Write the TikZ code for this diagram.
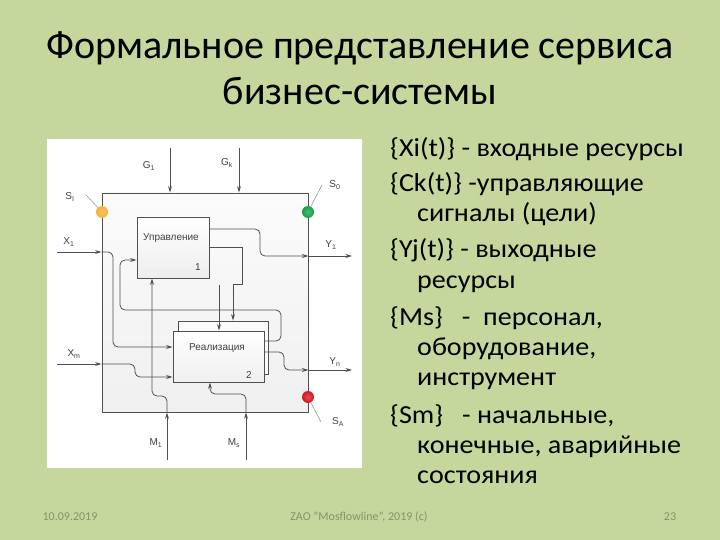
\documentclass[tikz,border=0pt]{standalone}
\usepackage{fontspec}
\setmainfont{Carlito}
\newfontfamily\bodyfont[FakeStretch=1.08]{Carlito}
\newfontfamily\diagfont{Liberation Sans}
\usetikzlibrary{arrows.meta,calc}
\definecolor{bg}{RGB}{197,215,156}
\definecolor{foot}{RGB}{132,148,104}
\definecolor{ln}{RGB}{80,80,80}
\definecolor{sorange}{RGB}{245,178,50}
\definecolor{sgreen}{RGB}{20,160,75}
\definecolor{sred}{RGB}{215,20,30}
\tikzset{
  x=1pt,y=-1pt,
  lin/.style={draw=ln,line width=0.8pt},
  arr/.style={lin,-{Stealth[length=6.5pt,width=4pt]}},
  rarr/.style={lin,rounded corners=5pt,-{Stealth[length=6.5pt,width=4pt]}},
  box/.style={draw=ln,line width=0.9pt,inner sep=0pt},
  lab/.style={font=\diagfont\fontsize{10}{11}\selectfont,text=black!75,inner sep=0pt},
  state/.style={circle,minimum size=12pt,inner sep=0pt},
  lead/.style={draw=black!55,line width=0.4pt},
  body/.style={anchor=base west,inner sep=0pt,font=\bodyfont\fontsize{26}{30}\selectfont},
  ttl/.style={anchor=base,inner sep=0pt,font=\fontsize{40}{48}\selectfont},
  ft/.style={anchor=base,inner sep=0pt,text=foot,font=\fontsize{12}{14}\selectfont}
}
\begin{document}
\begin{tikzpicture}
\useasboundingbox (0,0) rectangle (720,540);
\fill[bg] (0,0) rectangle (720,540);
% title
\node[ttl] (t1) at (360,59) {Формальное представление сервиса};
\node[ttl] (t2) at (360,105) {бизнес-системы};
% diagram background
\fill[white] (47,139) rectangle (362,468);
% boxes
\node[box,top color=gray!3,bottom color=gray!12,minimum width=206pt,minimum height=219pt] (outer) at (205,302.5) {};
\node[box,top color=white,bottom color=gray!14,minimum width=72pt,minimum height=61pt] (upr) at (173,247.5) {};
\node[box,fill=gray!4,minimum width=90pt,minimum height=53pt] (realsh) at (223,347.5) {};
\node[box,top color=white,bottom color=gray!12,minimum width=91pt,minimum height=51pt] (real) at (218.5,356.5) {};
\node[lab] (uprt) at (171,238) {Управление};
\node[lab] (upr1) at (198,267) {1};
\node[lab] (realt) at (217,348) {Реализация};
\node[lab] (real2) at (249,375) {2};
% inputs G
\coordinate (g1s) at (170,148);
\coordinate (gks) at (239,148);
\draw[arr] (g1s) -- (g1s |- outer.north);
\draw[arr] (gks) -- (gks |- outer.north);
\node[lab] (g1) at (149,166) {G\textsubscript{1}};
\node[lab] (gk) at (227,163) {G\textsubscript{k}};
% X1
\coordinate (x1s) at (57,252);
\draw[arr] (x1s) -- (outer.west |- x1s);
\draw[rarr] (outer.west |- x1s) -- (113,252) -- (113,347) -- (real.west |- 0,347);
\node[lab] (x1) at (69,242) {X\textsubscript{1}};
% Xm
\coordinate (xms) at (57,364);
\draw[arr] (xms) -- (outer.west |- xms);
\draw[rarr] (outer.west |- xms) -- (135,364) -- (135,377) -- (real.west |- 0,377);
\node[lab] (xm) at (74,354) {X\textsubscript{m}};
% feedback
\draw[rarr] (real.east |- 0,341) -- (281,341) -- (281,310) -- (120,310) -- (120,260) -- (upr.west |- 0,260);
% Y1
\coordinate (y1e) at (352,256);
\draw[rarr] (upr.east |- 0,229) -- (260,229) -- (260,256) -- (outer.east |- y1e);
\draw[arr] (outer.east |- y1e) -- (y1e);
\node[lab] (y1) at (331,245) {Y\textsubscript{1}};
% Yn
\coordinate (yne) at (352,370);
\draw[rarr] (real.east |- 0,352) -- (284,352) -- (284,370) -- (outer.east |- yne);
\draw[arr] (outer.east |- yne) -- (yne);
\node[lab] (yn) at (335,362) {Y\textsubscript{n}};
% control
\draw[arr] (upr.east |- 0,247) -- (242,247) -- (242,284) -- (233,284) -- (realsh.north -| 233,0);
\coordinate (fs) at (219,285);
\draw[arr] (fs) -- (real.north -| fs);
% M1
\coordinate (m1s) at (167,460);
\draw[arr] (m1s) -- (m1s |- outer.south);
\draw[rarr] (m1s |- outer.south) -- (167,396) -- (152,396) -- (upr.south -| 152,0);
\node[lab] (m1) at (156,443) {M\textsubscript{1}};
% Ms
\coordinate (mss) at (246,460);
\draw[arr] (mss) -- (mss |- outer.south);
\draw[rarr] (mss |- outer.south) -- (246,394) -- (210,394) -- (real.south -| 210,0);
\node[lab] (ms) at (234,443) {M\textsubscript{s}};
% states
\node[state,inner color=sorange!75!white,outer color=sorange] (si) at (102,212) {};
\node[state,inner color=sgreen!75!white,outer color=sgreen] (so) at (308,212) {};
\node[state,inner color=sred!75!white,outer color=sred] (sa) at (308,397) {};
\node[lab] (sil) at (70,197) {S\textsubscript{I}};
\node[lab] (sol) at (335,185) {S\textsubscript{0}};
\node[lab] (sal) at (338,422) {S\textsubscript{A}};
\coordinate (sil1) at (86,195);
\coordinate (sol1) at (322,185);
\coordinate (sal1) at (321,422);
\draw[lead] (sil1) -- (si);
\draw[lead] (sol1) -- (so);
\draw[lead] (sa) -- (sal1);
% right text
\node[body] (b1) at (390,157) {\{Xi(t)\} - входные ресурсы};
\node[body] (b2) at (390,192) {\{Ck(t)\} -управляющие};
\node[body] (b3) at (417,222) {сигналы (цели)};
\node[body] (b4) at (390,258) {\{Yj(t)\} - выходные};
\node[body] (b5) at (417,288) {ресурсы};
\node[body] (b6) at (390,325) {\{Ms\}\ \ \ -\ \ персонал,};
\node[body] (b7) at (417,355) {оборудование,};
\node[body] (b8) at (417,385) {инструмент};
\node[body] (b9) at (390,423) {\{Sm\}\ \ \ - начальные,};
\node[body] (b10) at (417,453) {конечные, аварийные};
\node[body] (b11) at (417,483) {состояния};
% footer
\node[ft] (f1) at (70,520) {10.09.2019};
\node[ft] (f2) at (359,520) {ZAO "Mosflowline", 2019 (c)};
\node[ft] (f3) at (670,520) {23};
\end{tikzpicture}
\end{document}
